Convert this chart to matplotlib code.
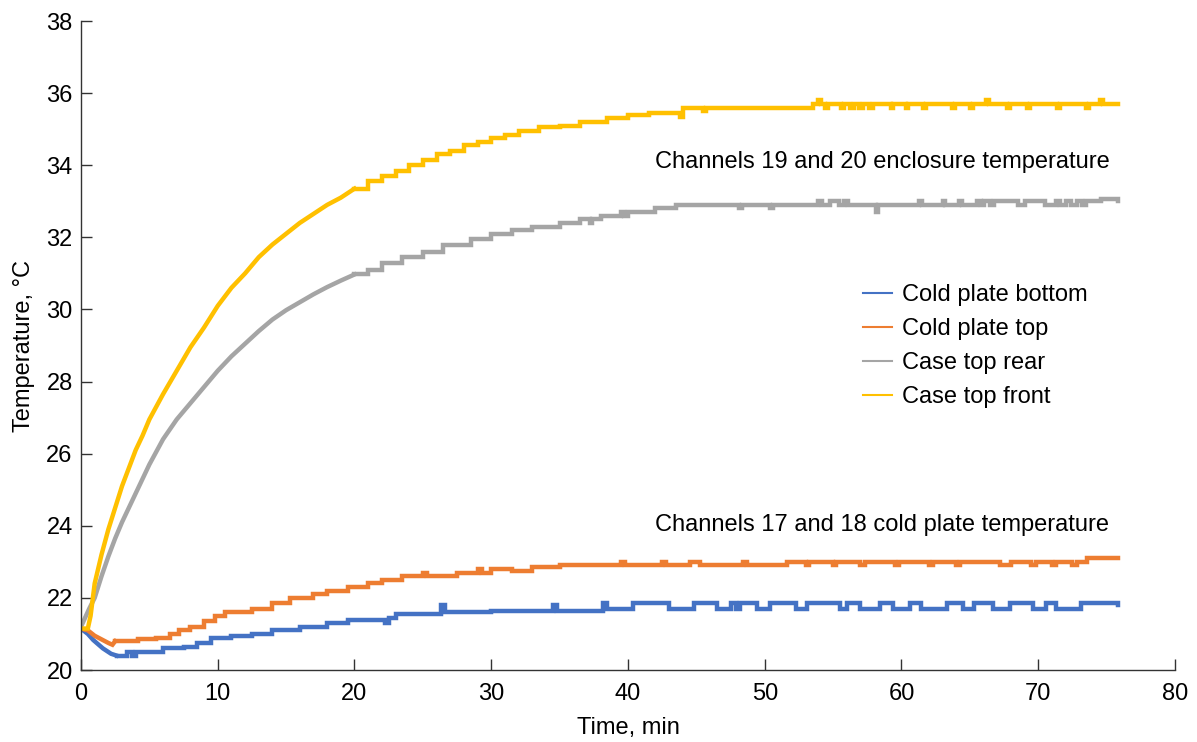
import matplotlib
matplotlib.use("Agg")
import matplotlib.pyplot as plt

plt.rcParams['font.family'] = ['Liberation Sans', 'DejaVu Sans']

# ---------------- data ----------------
labels = ["Cold plate bottom", "Cold plate top", "Case top rear", "Case top front"]
colors = ["#4472C4", "#ED7D31", "#A5A5A5", "#FFC000"]

# Case top front (yellow): smooth rise, then stepped plateau
front_rise_t = [0, 0.5, 0.7, 1, 1.5, 2, 2.5, 3, 3.5, 4, 4.5, 5, 6, 7, 8, 9, 10,
                11, 12, 13, 14, 15, 16, 17, 18, 19, 20]
front_rise_v = [21.15, 21.15, 21.5, 22.4, 23.2, 23.9, 24.5, 25.1, 25.6, 26.1, 26.5,
                26.95, 27.65, 28.3, 28.95, 29.5, 30.1, 30.6, 31.0, 31.45, 31.8, 32.1,
                32.4, 32.65, 32.9, 33.1, 33.35]
front_step_t = [20, 21, 22, 23, 24, 25, 26, 27, 28, 29, 30, 31, 32, 33.5, 35, 36.5,
                38.5, 40, 41.5, 43.8, 44.0, 45.5, 45.7, 53.5, 53.9, 54.1, 54.4, 54.6,
                55.6, 55.8, 56.2, 56.5, 56.9, 57.2, 57.6, 57.9, 59.2, 59.4, 60.3, 60.5,
                61.6, 61.8, 63.7, 63.9, 65.0, 65.2, 66.2, 66.4, 67.7, 67.9, 69.2, 69.4,
                71.4, 71.6, 73.5, 73.7, 74.5, 74.7, 75.8]
front_step_v = [33.35, 33.55, 33.7, 33.85, 34.0, 34.15, 34.3, 34.4, 34.55, 34.65, 34.75,
                34.85, 34.95, 35.05, 35.1, 35.2, 35.3, 35.4, 35.45, 35.35, 35.58, 35.5,
                35.58, 35.7, 35.82, 35.7, 35.6, 35.7, 35.6, 35.7, 35.6, 35.7, 35.6, 35.7,
                35.6, 35.7, 35.6, 35.7, 35.6, 35.7, 35.6, 35.7, 35.6, 35.7, 35.6, 35.7,
                35.82, 35.7, 35.6, 35.7, 35.6, 35.7, 35.6, 35.7, 35.6, 35.7, 35.82, 35.7,
                35.7]

# Case top rear (gray)
rear_rise_t = [0, 0.3, 0.6, 1, 1.5, 2, 2.5, 3, 3.5, 4, 5, 6, 7, 8, 9, 10, 11, 12,
               13, 14, 15, 16, 17, 18, 19, 20]
rear_rise_v = [21.2, 21.45, 21.7, 22.0, 22.6, 23.15, 23.65, 24.1, 24.5, 24.9, 25.7,
               26.4, 26.95, 27.4, 27.85, 28.3, 28.7, 29.05, 29.4, 29.72, 29.98, 30.2,
               30.42, 30.62, 30.8, 30.97]
rear_step_t = [20, 21, 22, 23.5, 25, 26.5, 28.5, 30, 31.5, 33, 35, 36.5, 37.2, 37.4,
               38, 39.5, 39.7, 40, 42, 43.5, 48.1, 48.3, 50.4, 50.6, 53.9, 54.2, 54.8,
               55.4, 55.8, 56.1, 58.1, 58.3, 61.3, 61.5, 63.0, 63.2, 64.2, 64.4, 65.5,
               65.8, 66.0, 66.5, 66.8, 68.5, 69.0, 70.5, 71.3, 71.6, 72.0, 72.4, 72.8,
               73.2, 73.5, 74.6, 75.8]
rear_step_v = [30.97, 31.1, 31.3, 31.45, 31.6, 31.8, 31.95, 32.1, 32.2, 32.3, 32.4,
               32.5, 32.4, 32.5, 32.6, 32.7, 32.6, 32.7, 32.8, 32.9, 32.8, 32.9, 32.8,
               32.9, 33.0, 32.9, 33.0, 32.9, 33.0, 32.9, 32.7, 32.9, 33.0, 32.9, 33.0,
               32.9, 33.0, 32.9, 33.0, 32.9, 33.0, 32.9, 33.0, 32.9, 33.0, 32.9, 33.0,
               32.9, 33.0, 32.9, 33.0, 32.9, 33.0, 33.05, 33.0]

# Cold plate top (orange)
top_rise_t = [0, 0.5, 1.0, 1.5, 2.0, 2.3, 2.5]
top_rise_v = [21.15, 21.1, 20.95, 20.85, 20.75, 20.7, 20.8]
top_step_t = [2.5, 4.2, 5.5, 6.5, 7.2, 8.0, 9.0, 9.8, 10.5, 12.5, 14.0, 15.3, 17.0,
              18.0, 19.5, 21.0, 22.0, 23.5, 25.0, 25.3, 27.5, 29.0, 29.3, 30.0, 31.5,
              33.0, 35.0, 39.5, 39.8, 42.5, 42.8, 44.5, 45.3, 48.4, 48.7, 51.6, 53.0,
              53.2, 55.0, 55.2, 57.0, 57.3, 59.5, 59.8, 62.0, 62.3, 64.0, 64.3, 67.2,
              68.0, 69.5, 69.8, 71.0, 71.3, 72.5, 72.8, 73.6, 75.8]
top_step_v = [20.8, 20.85, 20.9, 21.0, 21.1, 21.2, 21.35, 21.5, 21.6, 21.7, 21.85, 22.0,
              22.1, 22.2, 22.3, 22.4, 22.5, 22.6, 22.7, 22.6, 22.7, 22.8, 22.7, 22.8,
              22.75, 22.85, 22.9, 23.0, 22.9, 23.0, 22.9, 23.0, 22.9, 23.0, 22.9, 23.0,
              22.9, 23.0, 22.9, 23.0, 22.9, 23.0, 22.9, 23.0, 22.9, 23.0, 22.9, 23.0,
              22.9, 23.0, 22.9, 23.0, 22.9, 23.0, 22.9, 23.0, 23.12, 23.1]

# Cold plate bottom (blue)
bot_rise_t = [0, 0.5, 0.9, 1.6, 2.2, 2.6]
bot_rise_v = [21.15, 21.0, 20.83, 20.6, 20.45, 20.4]
bot_step_t = [2.6, 3.4, 3.7, 4.0, 6.0, 7.5, 8.5, 9.5, 11.0, 12.5, 14.0, 16.0, 18.0,
              19.5, 22.2, 22.5, 23.0, 26.3, 26.6, 30.0, 34.5, 34.8, 38.2, 38.5, 40.4,
              43.0, 44.8, 46.5, 47.5, 47.9, 48.2, 49.4, 50.4, 52.3, 53.1, 55.5, 56.0,
              57.0, 58.4, 59.4, 60.6, 61.4, 63.3, 64.5, 65.3, 66.7, 67.9, 69.6, 70.6,
              71.3, 73.1, 75.8]
bot_step_v = [20.4, 20.5, 20.4, 20.5, 20.6, 20.65, 20.75, 20.9, 20.95, 21.0, 21.1,
              21.2, 21.3, 21.4, 21.3, 21.45, 21.55, 21.8, 21.6, 21.65, 21.8, 21.65,
              21.85, 21.7, 21.85, 21.7, 21.85, 21.7, 21.85, 21.7, 21.85, 21.7, 21.85,
              21.7, 21.85, 21.7, 21.85, 21.7, 21.85, 21.7, 21.85, 21.7, 21.85, 21.7,
              21.85, 21.7, 21.85, 21.7, 21.85, 21.7, 21.85, 21.8]

annot_upper = "Channels 19 and 20 enclosure temperature"
annot_lower = "Channels 17 and 18 cold plate temperature"
x_ticks = [0, 10, 20, 30, 40, 50, 60, 70, 80]
y_ticks = [20, 22, 24, 26, 28, 30, 32, 34, 36, 38]

# ---------------- figure ----------------
FS = 17
fig = plt.figure(figsize=(11.97, 7.42), dpi=100)
ax = fig.add_axes([81 / 1197, 1 - 670 / 742, 1094 / 1197, 649 / 742])

series = [
    (bot_rise_t, bot_rise_v, bot_step_t, bot_step_v),
    (top_rise_t, top_rise_v, top_step_t, top_step_v),
    (rear_rise_t, rear_rise_v, rear_step_t, rear_step_v),
    (front_rise_t, front_rise_v, front_step_t, front_step_v),
]
lw = 3.2
handles = []
for (rt, rv, st, sv), lab, col in zip(series, labels, colors):
    h, = ax.plot(rt, rv, color=col, lw=lw, label=lab, solid_joinstyle='miter')
    ax.plot(st, sv, color=col, lw=lw, drawstyle='steps-post', solid_joinstyle='miter')
    handles.append(h)

ax.set_xlim(0, 80)
ax.set_ylim(20, 38)
ax.set_xticks(x_ticks)
ax.set_yticks(y_ticks)
ax.tick_params(direction='in', length=8, width=1, labelsize=FS, color='#333333')
ax.tick_params(axis='x', pad=9)
ax.tick_params(axis='y', pad=6)
for s in ['top', 'right']:
    ax.spines[s].set_visible(False)
for s in ['left', 'bottom']:
    ax.spines[s].set_color('#333333')
    ax.spines[s].set_linewidth(1.0)

ax.set_xlabel("Time, min", fontsize=FS, labelpad=9)
ax.set_ylabel("Temperature, °C", fontsize=FS, labelpad=8)

ax.text(42.0, 34.09, annot_upper, fontsize=FS, ha='left', va='center')
ax.text(42.0, 24.02, annot_lower, fontsize=FS, ha='left', va='center')

leg = ax.legend(handles=handles, loc='upper left', frameon=False, fontsize=FS,
                bbox_to_anchor=((854 - 81) / 1094, (670 - 275) / 649),
                handlelength=1.2, handletextpad=0.45, labelspacing=0.5,
                borderaxespad=0)
for l in leg.get_lines():
    l.set_linewidth(1.5)

fig.savefig("out.png", dpi=100)
